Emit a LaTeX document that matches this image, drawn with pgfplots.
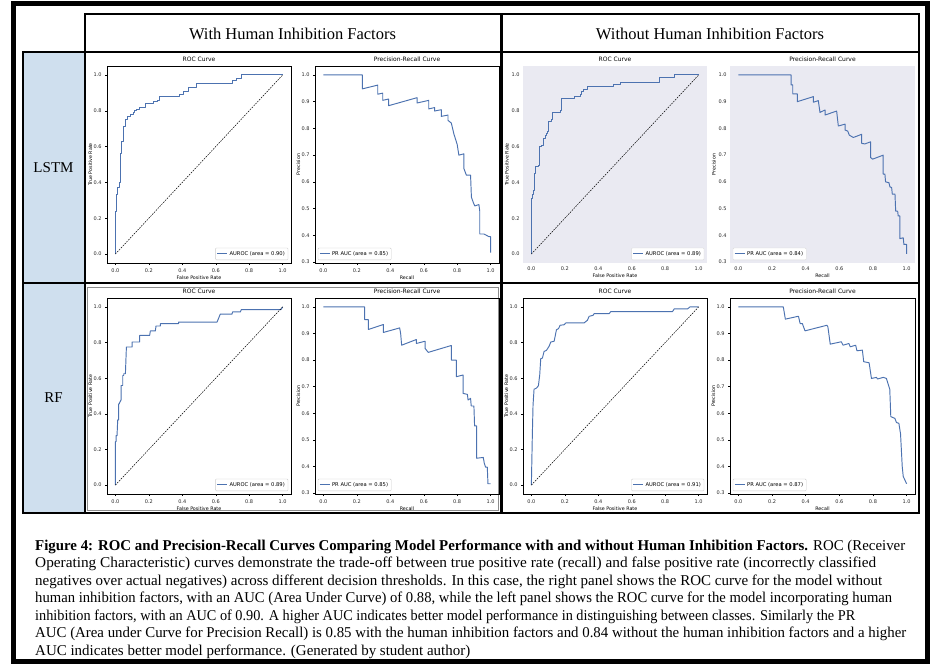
\documentclass[border=0pt]{standalone}
\usepackage{pgfplots}
\pgfplotsset{compat=1.18}
\usepackage{fontspec}
\setmainfont{Liberation Serif}
\newfontfamily\mpl{DejaVu Sans}
\definecolor{roc}{RGB}{76,114,176}
\definecolor{sbbg}{RGB}{234,234,242}
\definecolor{lblue}{RGB}{207,223,238}
\pgfplotsset{
  mplbase/.style={
    scale only axis, anchor=north west,
    font=\mpl\fontsize{5}{6}\selectfont,
    /pgf/number format/assume math mode=true,
    xticklabel style={/pgf/number format/.cd,fixed,fixed zerofill,precision=1},
    yticklabel style={/pgf/number format/.cd,fixed,fixed zerofill,precision=1},
    ticklabel style={font=\mpl\fontsize{5}{6}\selectfont, text=black!85},
    tick pos=left, tick align=outside, major tick length=2pt,
    every tick/.style={black, line width=0.4pt},
    axis line style={line width=0.5pt},
    title style={font=\mpl\fontsize{6}{7}\selectfont, yshift=-5pt},
    xlabel style={font=\mpl\fontsize{4.8}{6}\selectfont, yshift=3pt},
    ylabel style={font=\mpl\fontsize{4.8}{6}\selectfont, yshift=-5.5pt},
    legend style={font=\mpl\fontsize{5.2}{6}\selectfont, draw=black!20, rounded corners=1pt, line width=0.4pt, inner sep=1.2pt, cells={anchor=west}},
    legend image code/.code={\draw[#1] (0pt,0pt) -- (10pt,0pt);},
    xmin=-0.05, xmax=1.05, xtick={0,0.2,0.4,0.6,0.8,1},
  },
  rocax/.style={mplbase, ymin=-0.05, ymax=1.05, ytick={0,0.2,0.4,0.6,0.8,1},
    xlabel={False Positive Rate}, ylabel={True Positive Rate}, title={ROC Curve},
    legend style={at={(0.985,0.015)}, anchor=south east}},
  prax/.style={mplbase, ymin=0.2965, ymax=1.0335, ytick={0.3,0.4,0.5,0.6,0.7,0.8,0.9,1},
    xlabel={Recall}, ylabel={Precision}, title={Precision-Recall Curve},
    legend style={at={(0.015,0.015)}, anchor=south west}},
  sb/.style={axis background/.style={fill=sbbg}, axis line style={draw=none}, major tick length=0pt,
    ylabel style={yshift=1.5pt},
    legend style={fill=white, draw=black!15}},
  curve/.style={roc, line width=0.95pt, line join=round},
  diag/.style={black, line width=0.5pt, dash pattern=on 1.6pt off 1.1pt, forget plot},
}
\newcommand\capline[2]{\resizebox{#1pt}{\height}{#2}}
\begin{document}
\begin{tikzpicture}
\path[fill=white] (0pt,0pt) rectangle (931pt,-666pt);
\begin{scope}[x=1pt,y=-1pt]
\fill[lblue] (23,52) rectangle (85,513);
\draw[line width=5pt] (13,4) rectangle (927.5,661.5);
\draw[line width=2.5pt] (85,14) rectangle (501.5,52);
\draw[line width=2.5pt] (501.5,14) rectangle (919,52);
\draw[line width=2.5pt] (23,52) rectangle (85,283);
\draw[line width=2.5pt] (23,283) rectangle (85,513);
\draw[line width=2.5pt] (85,52) rectangle (919,513);
\draw[line width=2.5pt] (85,283) -- (919,283);
\draw[line width=3pt] (501.5,14) -- (501.5,513);
\draw[black!45, line width=0.6pt] (87.5,287) rectangle (498.5,510.5);
\node[font=\fontsize{16.5}{18}\selectfont] at (292.5,34) {With Human Inhibition Factors};
\node[font=\fontsize{16.5}{18}\selectfont] at (710,34) {Without Human Inhibition Factors};
\node[font=\fontsize{15}{17}\selectfont] at (53.5,168) {LSTM};
\node[font=\fontsize{15}{17}\selectfont] at (53.5,398) {RF};
\begin{scope}[every node/.style={anchor=base west, inner sep=0pt, font=\fontsize{15}{17}\selectfont}]
\node at (35,550) {\capline{870}{\textbf{Figure 4: ROC and Precision-Recall Curves Comparing Model Performance with and without Human Inhibition Factors.} ROC (Receiver}};
\node at (35,567.5) {\capline{841}{Operating Characteristic) curves demonstrate the trade-off between true positive rate (recall) and false positive rate (incorrectly classified}};
\node at (35,585) {\capline{847}{negatives over actual negatives) across different decision thresholds. In this case, the right panel shows the ROC curve for the model without}};
\node at (35,602.5) {\capline{857}{human inhibition factors, with an AUC (Area Under Curve) of 0.88, while the left panel shows the ROC curve for the model incorporating human}};
\node at (35,620) {\capline{820}{inhibition factors, with an AUC of 0.90. A higher AUC indicates better model performance in distinguishing between classes. Similarly the PR}};
\node at (35,637.5) {\capline{871}{AUC (Area under Curve for Precision Recall) is 0.85 with the human inhibition factors and 0.84 without the human inhibition factors and a higher}};
\node at (35,655) {\capline{435}{AUC indicates better model performance. (Generated by student author)}};
\end{scope}
\end{scope}

% ---------- Row 1: LSTM ----------
\begin{axis}[rocax, at={(107pt,-66pt)}, width=184pt, height=197pt]
\addplot[curve] coordinates {(0,0)(0,0.24)(0.006,0.24)(0.006,0.33)(0.014,0.33)(0.014,0.37)(0.024,0.37)(0.024,0.40)(0.030,0.40)(0.030,0.56)(0.036,0.56)(0.036,0.63)(0.046,0.63)(0.046,0.67)(0.051,0.67)(0.051,0.71)(0.063,0.71)(0.063,0.75)(0.075,0.75)(0.075,0.77)(0.089,0.77)(0.089,0.78)(0.109,0.78)(0.109,0.79)(0.115,0.79)(0.115,0.80)(0.129,0.80)(0.129,0.81)(0.145,0.81)(0.145,0.82)(0.18,0.82)(0.18,0.84)(0.228,0.84)(0.228,0.85)(0.251,0.85)(0.251,0.86)(0.263,0.86)(0.263,0.88)(0.386,0.88)(0.386,0.89)(0.408,0.89)(0.408,0.91)(0.44,0.91)(0.44,0.93)(0.485,0.93)(0.485,0.95)(0.703,0.95)(0.703,0.97)(0.723,0.97)(0.723,0.98)(0.756,0.98)(0.756,1.0)(1,1)};
\addlegendentry{AUROC (area = 0.90)}
\addplot[diag] coordinates {(0,0)(1,1)};
\end{axis}
\begin{axis}[prax, at={(315pt,-66pt)}, width=184pt, height=197pt]
\addplot[curve] coordinates {(0,1.0)(0.233,1.0)(0.233,0.948)(0.325,0.962)(0.325,0.928)(0.355,0.932)(0.355,0.905)(0.39,0.91)(0.39,0.885)(0.56,0.915)(0.56,0.895)(0.63,0.905)(0.63,0.873)(0.665,0.878)(0.665,0.865)(0.705,0.87)(0.705,0.845)(0.745,0.85)(0.745,0.83)(0.765,0.82)(0.78,0.78)(0.79,0.76)(0.80,0.74)(0.81,0.70)(0.84,0.705)(0.84,0.65)(0.855,0.625)(0.88,0.625)(0.885,0.543)(0.895,0.525)(0.905,0.51)(0.93,0.515)(0.935,0.49)(0.935,0.405)(0.96,0.405)(0.99,0.395)(1.0,0.395)(1.0,0.335)};
\addlegendentry{PR AUC (area = 0.85)}
\end{axis}
\begin{axis}[rocax, sb, at={(523pt,-66pt)}, width=184pt, height=197pt]
\addplot[curve] coordinates {(0,0)(0,0.312)(0.006,0.312)(0.006,0.33)(0.014,0.33)(0.014,0.355)(0.020,0.355)(0.020,0.45)(0.026,0.45)(0.026,0.49)(0.040,0.49)(0.040,0.495)(0.046,0.495)(0.046,0.53)(0.050,0.53)(0.050,0.60)(0.058,0.60)(0.058,0.607)(0.073,0.607)(0.073,0.645)(0.087,0.645)(0.087,0.66)(0.091,0.66)(0.091,0.673)(0.099,0.673)(0.099,0.686)(0.105,0.686)(0.105,0.738)(0.123,0.738)(0.123,0.751)(0.129,0.751)(0.129,0.79)(0.173,0.79)(0.173,0.804)(0.179,0.804)(0.179,0.869)(0.256,0.869)(0.256,0.882)(0.292,0.882)(0.292,0.893)(0.298,0.893)(0.298,0.907)(0.312,0.907)(0.312,0.92)(0.335,0.92)(0.335,0.935)(0.49,0.935)(0.49,0.948)(0.53,0.948)(0.53,0.959)(0.764,0.959)(0.764,0.987)(0.857,0.987)(0.857,1.0)(1,1)};
\addlegendentry{AUROC (area = 0.89)}
\addplot[diag] coordinates {(0,0)(1,1)};
\end{axis}
\begin{axis}[prax, sb, at={(730pt,-66pt)}, width=185pt, height=197pt]
\addplot[curve] coordinates {(0,1)(0.313,1)(0.313,0.963)(0.323,0.963)(0.323,0.929)(0.35,0.929)(0.35,0.90)(0.446,0.919)(0.446,0.898)(0.475,0.904)(0.485,0.86)(0.515,0.869)(0.515,0.85)(0.584,0.865)(0.594,0.809)(0.634,0.816)(0.634,0.794)(0.65,0.79)(0.659,0.775)(0.683,0.766)(0.733,0.778)(0.733,0.744)(0.752,0.742)(0.786,0.75)(0.786,0.691)(0.798,0.685)(0.861,0.70)(0.861,0.629)(0.871,0.629)(0.875,0.60)(0.895,0.597)(0.901,0.581)(0.911,0.579)(0.915,0.554)(0.931,0.554)(0.935,0.491)(0.947,0.49)(0.95,0.4725)(0.96,0.4725)(0.96,0.3875)(0.98,0.391)(0.984,0.366)(1,0.366)(1,0.331)};
\addlegendentry{PR AUC (area = 0.84)}
\end{axis}

% ---------- Row 2: RF ----------
\begin{axis}[rocax, at={(107pt,-298pt)}, width=184pt, height=196pt]
\addplot[curve] coordinates {(0,0)(0,0.244)(0.004,0.244)(0.004,0.278)(0.010,0.278)(0.014,0.366)(0.020,0.366)(0.020,0.456)(0.024,0.456)(0.024,0.46)(0.034,0.478)(0.034,0.559)(0.044,0.559)(0.044,0.615)(0.05,0.615)(0.05,0.625)(0.06,0.625)(0.066,0.775)(0.10,0.775)(0.10,0.803)(0.145,0.803)(0.145,0.84)(0.205,0.84)(0.209,0.865)(0.239,0.865)(0.243,0.893)(0.269,0.893)(0.269,0.906)(0.378,0.906)(0.378,0.915)(0.608,0.915)(0.627,0.959)(0.697,0.959)(0.701,0.972)(0.747,0.972)(0.753,0.985)(0.99,0.985)(1,1)};
\addlegendentry{AUROC (area = 0.89)}
\addplot[diag] coordinates {(0,0)(1,1)};
\end{axis}
\begin{axis}[prax, at={(315pt,-298pt)}, width=184pt, height=196pt]
\addplot[curve] coordinates {(0,1)(0.247,1)(0.247,0.9525)(0.269,0.952)(0.269,0.915)(0.359,0.934)(0.359,0.904)(0.456,0.921)(0.462,0.90)(0.468,0.856)(0.556,0.8775)(0.556,0.8625)(0.608,0.871)(0.608,0.844)(0.627,0.829)(0.765,0.855)(0.765,0.80)(0.795,0.80)(0.795,0.7375)(0.835,0.744)(0.835,0.675)(0.861,0.671)(0.865,0.65)(0.88,0.656)(0.884,0.6275)(0.90,0.6275)(0.904,0.5525)(0.916,0.5525)(0.916,0.431)(0.956,0.434)(0.962,0.4125)(0.97,0.3975)(0.98,0.3975)(0.984,0.335)(1,0.335)};
\addlegendentry{PR AUC (area = 0.85)}
\end{axis}
\begin{axis}[rocax, at={(523pt,-298pt)}, width=184pt, height=196pt]
\addplot[curve] coordinates {(0,0)(0.006,0.29)(0.01,0.45)(0.016,0.538)(0.03,0.544)(0.042,0.557)(0.05,0.619)(0.056,0.709)(0.066,0.713)(0.076,0.75)(0.09,0.756)(0.106,0.779)(0.116,0.803)(0.136,0.807)(0.15,0.872)(0.162,0.878)(0.172,0.897)(0.196,0.90)(0.206,0.91)(0.315,0.91)(0.335,0.925)(0.345,0.947)(0.369,0.953)(0.375,0.962)(0.465,0.962)(0.475,0.974)(0.844,0.974)(0.854,0.989)(0.934,0.989)(0.948,1.0)(1,1)};
\addlegendentry{AUROC (area = 0.91)}
\addplot[diag] coordinates {(0,0)(1,1)};
\end{axis}
\begin{axis}[prax, at={(730pt,-298pt)}, width=185pt, height=196pt]
\addplot[curve] coordinates {(0,1)(0.267,1)(0.279,0.954)(0.357,0.965)(0.367,0.9375)(0.38,0.9375)(0.396,0.91)(0.526,0.931)(0.532,0.925)(0.546,0.86)(0.612,0.869)(0.622,0.856)(0.657,0.8625)(0.665,0.85)(0.697,0.856)(0.705,0.835)(0.737,0.8375)(0.745,0.794)(0.777,0.79)(0.791,0.731)(0.821,0.735)(0.827,0.729)(0.861,0.735)(0.88,0.731)(0.90,0.69)(0.906,0.5875)(0.93,0.581)(0.94,0.565)(0.954,0.5625)(0.964,0.5225)(0.974,0.40)(0.98,0.3625)(1.0,0.335)};
\addlegendentry{PR AUC (area = 0.87)}
\end{axis}
\end{tikzpicture}
\end{document}
